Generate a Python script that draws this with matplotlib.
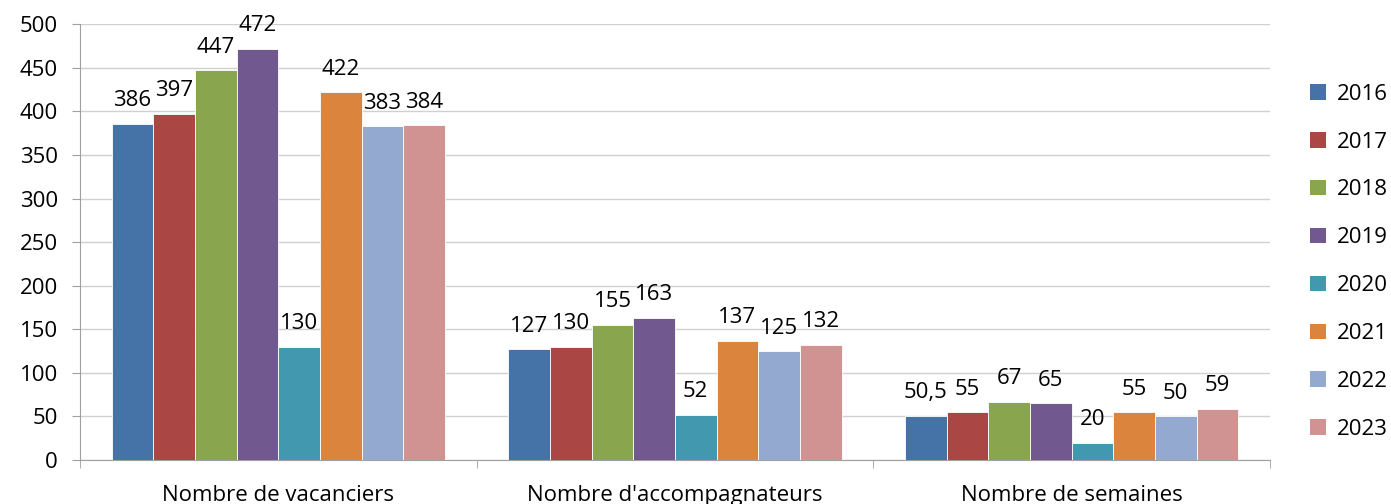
import numpy as np
import matplotlib
matplotlib.use('Agg')
import matplotlib.pyplot as plt
from matplotlib.patches import Patch

categories = ["Nombre de vacanciers", "Nombre d'accompagnateurs", "Nombre de semaines"]
years = ["2016", "2017", "2018", "2019", "2020", "2021", "2022", "2023"]
v_2016 = [386, 127, 50.5]
v_2017 = [397, 130, 55]
v_2018 = [447, 155, 67]
v_2019 = [472, 163, 65]
v_2020 = [130, 52, 20]
v_2021 = [422, 137, 55]
v_2022 = [383, 125, 50]
v_2023 = [384, 132, 59]
series = [v_2016, v_2017, v_2018, v_2019, v_2020, v_2021, v_2022, v_2023]
colors = ['#4572A7', '#AA4643', '#89A54E', '#71588F', '#4198AF', '#DB843D', '#93A9CF', '#D19392']

plt.rcParams['font.family'] = ['Open Sans', 'DejaVu Sans']
fs = 16

fig = plt.figure(figsize=(13.91, 5.04), dpi=100)
ax = fig.add_axes([0.0575, 0.0873, 0.8555, 0.8647])

x = np.arange(len(categories))
bw = 0.84 / len(years)
for i, vals in enumerate(series):
    pos = x - 0.42 + bw * (i + 0.5)
    bars = ax.bar(pos, vals, width=bw, color=colors[i], edgecolor='white', linewidth=0.6, zorder=3)
    for b, v in zip(bars, vals):
        lbl = str(v).replace('.', ',')
        ax.annotate(lbl, (b.get_x() + b.get_width() / 2, v), xytext=(0, 9),
                    textcoords='offset points', ha='center', va='bottom', fontsize=fs)

ax.set_xlim(-0.5, 2.5)
ax.set_ylim(0, 500)
ax.set_yticks(np.arange(0, 501, 50))
ax.yaxis.grid(True, color='#d0d0d0', linewidth=1, zorder=0)
ax.set_axisbelow(True)
ax.spines['top'].set_visible(False)
ax.spines['right'].set_visible(False)
ax.spines['left'].set_color('#a0a0a0')
ax.spines['bottom'].set_color('#a0a0a0')
ax.tick_params(axis='y', length=6, color='#a0a0a0', pad=10, labelsize=fs)
ax.set_xticks(x)
ax.set_xticklabels(categories)
ax.tick_params(axis='x', length=0, pad=18, labelsize=fs)
ax.set_xticks([-0.5, 0.5, 1.5, 2.5], minor=True)
ax.tick_params(axis='x', which='minor', length=6, color='#a0a0a0', direction='out')

handles = [Patch(facecolor=c) for c in colors]
fig.legend(handles, years, loc='upper left', bbox_to_anchor=(0.9418, 0.834), frameon=False,
           borderpad=0, borderaxespad=0,
           handlelength=0.7, handleheight=0.7, labelspacing=1.21, handletextpad=0.5, fontsize=fs)

plt.savefig('out.png', dpi=100)
